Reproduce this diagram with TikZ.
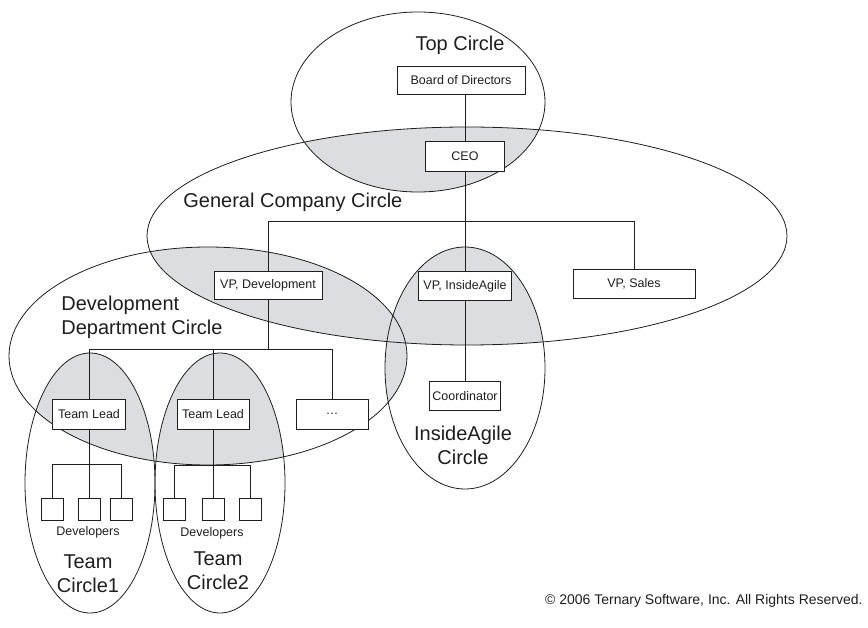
\documentclass[tikz,border=0pt]{standalone}
\usepackage{fontspec}
\setmainfont{Liberation Sans}
\definecolor{overlapgray}{RGB}{220,221,224}
\definecolor{ink}{RGB}{30,30,30}
\begin{document}
\begin{tikzpicture}[x=1pt,y=-1pt,line width=0.8pt,color=ink,
  box/.style={draw=ink,fill=white,inner sep=0pt,minimum height=29pt,text=ink,font=\fontsize{12.5}{14}\selectfont},
  devbox/.style={draw=ink,fill=white,inner sep=0pt,minimum size=22pt},
  lbl/.style={text=ink,font=\fontsize{20}{24}\selectfont,align=center,inner sep=0pt},
  small/.style={text=ink,font=\fontsize{12.5}{14}\selectfont,inner sep=0pt},
  overlap/.style={fill=overlapgray}]
\useasboundingbox (0,0) rectangle (868,628);
% shaded overlaps
\begin{scope}\clip (418,102) ellipse [x radius=127pt,y radius=90pt];
  \path[overlap] (467,236) ellipse [x radius=320pt,y radius=109pt];\end{scope}
\begin{scope}\clip (467,236) ellipse [x radius=320pt,y radius=109pt];
  \path[overlap] (208,356) ellipse [x radius=199pt,y radius=109pt];\end{scope}
\begin{scope}\clip (467,236) ellipse [x radius=320pt,y radius=109pt];
  \path[overlap] (465,368) ellipse [x radius=80pt,y radius=121pt];\end{scope}
\begin{scope}\clip (208,356) ellipse [x radius=199pt,y radius=109pt];
  \path[overlap] (465,368) ellipse [x radius=80pt,y radius=121pt];\end{scope}
\begin{scope}\clip (208,356) ellipse [x radius=199pt,y radius=109pt];
  \path[overlap] (90,483) ellipse [x radius=65pt,y radius=130pt];\end{scope}
\begin{scope}\clip (208,356) ellipse [x radius=199pt,y radius=109pt];
  \path[overlap] (220,483) ellipse [x radius=65pt,y radius=130pt];\end{scope}
% circle outlines
\draw (418,102) ellipse [x radius=127pt,y radius=90pt];
\draw (467,236) ellipse [x radius=320pt,y radius=109pt];
\draw (208,356) ellipse [x radius=199pt,y radius=109pt];
\draw (465,368) ellipse [x radius=80pt,y radius=121pt];
\draw (90,483) ellipse [x radius=65pt,y radius=130pt];
\draw (220,483) ellipse [x radius=65pt,y radius=130pt];
% boxes
\node[box,minimum width=128pt,minimum height=28pt] (bod) at (461,80) {Board of Directors};
\node[box,minimum width=79pt,minimum height=30pt] (ceo) at (465,156) {CEO};
\node[box,minimum width=108pt,minimum height=28pt] (vpdev) at (268,285) {VP, Development};
\node[box,minimum width=93pt] (vpia) at (465,286) {VP, InsideAgile};
\node[box,minimum width=122pt] (vpsales) at (634,284) {VP, Sales};
\node[box,minimum width=71pt] (coord) at (465,396) {Coordinator};
\node[box,minimum width=73pt,minimum height=30pt] (tl1) at (89,414) {Team Lead};
\node[box,minimum width=72pt,minimum height=30pt] (tl2) at (213,414) {Team Lead};
\node[box,minimum width=72pt,minimum height=30pt] (dots) at (332,414) {\dots};
\node[devbox] (d11) at (52,509) {};
\node[devbox] (d12) at (89,509) {};
\node[devbox] (d13) at (121,509) {};
\node[devbox] (d21) at (174,509) {};
\node[devbox] (d22) at (213,509) {};
\node[devbox] (d23) at (250,509) {};
% bus coordinates
\coordinate (cb) at (465,221);
\coordinate (db) at (268,349);
\coordinate (tb1) at (89,464);
\coordinate (tb2) at (213,465);
% connectors
\draw (ceo.north) -- (ceo.north |- bod.south);
\draw (ceo.south) -- (vpia.north);
\draw (vpdev.north) |- (vpsales.north |- cb) -- (vpsales.north);
\draw (vpia.south) -- (coord.north);
\draw (vpdev.south) -- (db);
\draw (tl1.north) |- (dots.north |- db) -- (dots.north);
\draw (tl2.north) -- (tl2.north |- db);
\draw (tl1.south) -- (tb1);
\draw (d11.north) |- (d13.north |- tb1) -- (d13.north);
\draw (d12.north) -- (d12.north |- tb1);
\draw (tl2.south) -- (tb2);
\draw (d21.north) |- (d23.north |- tb2) -- (d23.north);
\draw (d22.north) -- (d22.north |- tb2);
% labels
\node[lbl] (ltop) at (460,45) {Top Circle};
\node[lbl,anchor=west] (lgen) at (183,202) {General Company Circle};
\node[lbl,anchor=west,align=left] (ldev) at (61,317) {Development\\Department Circle};
\node[lbl] (lia) at (463,445) {InsideAgile\\Circle};
\node[lbl] (lt1) at (88,574) {Team\\Circle1};
\node[lbl] (lt2) at (218,571) {Team\\Circle2};
\node[small] (dev1) at (88,532) {Developers};
\node[small] (dev2) at (212,533) {Developers};
\node[text=ink,font=\fontsize{14}{16}\selectfont,anchor=east,inner sep=0pt] (copy) at (863,601) {© 2006 Ternary Software, Inc. All Rights Reserved.};
\end{tikzpicture}
\end{document}
